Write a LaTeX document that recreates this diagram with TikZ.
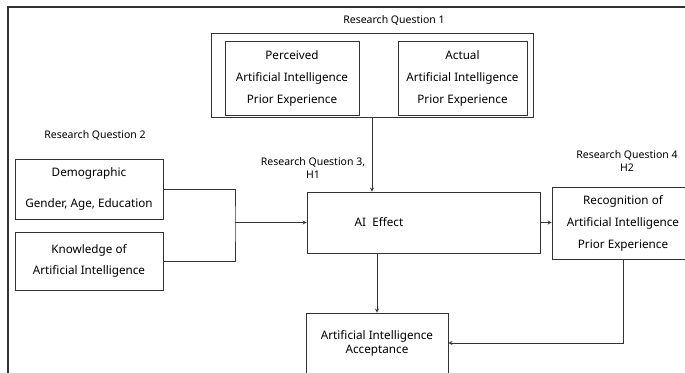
\documentclass[tikz,border=0pt]{standalone}
\usepackage{fontspec}
\setmainfont{Noto Sans}
\usepackage{tikz}
\usetikzlibrary{positioning}
\tikzset{
	ln/.style={draw=black!80, line width=0.8pt},
	to/.style={->, >=stealth, ln}
}

\begin{document}
\begin{tikzpicture}[
				x=1pt, y=-1pt,
				box/.style={
					draw=black!80,
					line width=0.8pt,
					rectangle,
					align=center,
					inner sep=0pt,
					font=\fontsize{11.7}{22}\selectfont
				},
				lbl/.style={align=center, font=\fontsize{10.5}{13}\selectfont},
				arrow/.style={->, >=stealth, ln}
				]
				
				\clip (0,0) rectangle (685,372);
				\draw[ln, line width=1.3pt] (8,380) -- (8,7) -- (690,7);
				
				\node[lbl] (q1) at (394,20) {Research Question 1};
				\node[box, minimum width=322, minimum height=84] (rq1) at (372,75) {};
				\node[box, minimum width=134, minimum height=74] (perc) at (292,78) {Perceived\\Artificial Intelligence\\Prior Experience};
				\node[box, minimum width=129, minimum height=74] (act) at (462.5,78) {Actual\\Artificial Intelligence\\Prior Experience};
				
				\node[lbl] (q2) at (95,135) {Research Question 2};
				\node[box, minimum width=148, minimum height=60, font=\fontsize{11.7}{31}\selectfont] (demo) at (89,189) {Demographic\\Gender, Age, Education};
				\node[box, minimum width=148, minimum height=58, font=\fontsize{11.7}{21}\selectfont] (know) at (89,261) {Knowledge of\\Artificial Intelligence};
				
				\node[lbl] (q3) at (313,168) {Research Question 3,\\H1};
				\node[box, minimum width=233, minimum height=61] (aieff) at (423.5,222.5) {};
				\node[font=\fontsize{11.7}{14}\selectfont] (aitx) at (379,222) {AI\ \ Effect};
				
				\node[lbl] (q4) at (627,161) {Research Question 4\\H2};
				\node[box, minimum width=142, minimum height=72] (recog) at (623,223) {Recognition of\\Artificial Intelligence\\Prior Experience};
				
				\node[box, minimum width=142, minimum height=60, font=\fontsize{11.7}{14}\selectfont] (acc) at (377,343) {Artificial Intelligence\\Acceptance};
				
				\coordinate (jn) at (235,222.5);
				\draw[ln] (demo.east) -| (jn) |- (know.east);
				\draw[arrow] (jn) -- (aieff.west);
				\draw[arrow] (rq1.south) -- (rq1.south |- aieff.north);
				\draw[arrow] (aieff.east) -- (aieff.east -| recog.west);
				\draw[arrow] (aieff.south -| acc.north) -- (acc.north);
				\draw[arrow] (recog.south) |- (acc.east);
				
			\end{tikzpicture}
\end{document}
